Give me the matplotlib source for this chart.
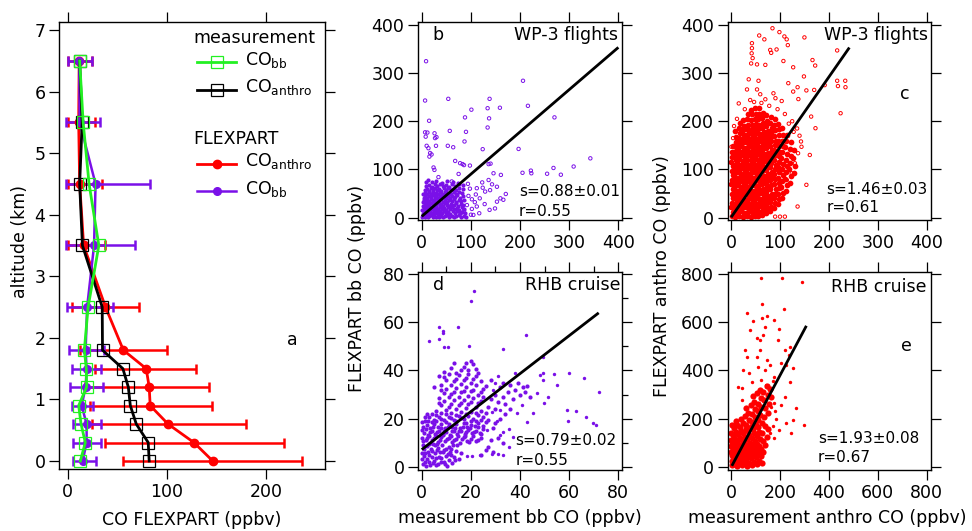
import matplotlib
matplotlib.use('Agg')
import matplotlib.pyplot as plt
import numpy as np

plt.rcParams['font.family'] = ['DejaVu Sans']
plt.rcParams['mathtext.default'] = 'regular'

PURPLE = '#7a10e8'
RED = '#ff0000'
GREEN = '#22f022'

# ---------------- panel a : vertical profiles ----------------
alt = [0, 0.3, 0.6, 0.9, 1.2, 1.5, 1.8, 2.5, 3.5, 4.5, 5.5, 6.5]
flex_anthro = [146, 127, 101, 83, 82, 79, 56, 38, 16, 12, 11, 11.5]
flex_anthro_lo = [56, 38, 24, 22, 17, 27, 12, 4, 0, 0, 0, 0.3]
flex_anthro_hi = [236, 218, 179, 145, 142, 129, 100, 72, 38, 34, 27, 24]
flex_bb = [15, 19, 19, 14, 18, 19, 18, 19.5, 26.5, 28, 12, 11.5]
flex_bb_lo = [5, 5, 5, 4, 2, 4, 1, -1, -2, -2, -2, 0.3]
flex_bb_hi = [28, 33, 33, 25, 35, 33, 36, 46, 68, 83, 32, 24]
meas_anthro = [82, 81, 69, 63, 61, 55.5, 35, 34.7, 14.8, 12, 14.5, 12]
meas_bb = [12.7, 17.7, 13.4, 11, 19, 18.7, 16.7, 20.5, 31.3, 21.5, 15.5, 12]

# ---------------- panel b : bb CO, WP-3 ----------------
b_core = [(1,1),(3,4),(6,2),(9,5),(12,1),(15,3),(18,6),(22,2),(25,4),(29,1),(33,5),(36,2),(40,4),(44,1),(48,3),(52,6),(56,2),(61,4),(66,1),(70,3),(75,5),(80,2),(86,4),(90,1),
(2,8),(5,11),(8,9),(11,13),(14,8),(17,12),(21,10),(24,14),(27,9),(31,12),(35,8),(38,13),(42,10),(46,14),(50,9),(54,12),(58,8),(63,13),(67,10),(72,14),(77,9),(82,12),(87,10),
(1,16),(4,19),(7,17),(10,21),(13,18),(16,22),(20,17),(23,20),(27,16),(30,21),(34,18),(38,22),(41,17),(45,20),(49,16),(53,21),(57,18),(62,22),(66,17),(71,20),(76,16),(81,21),(85,18),
(3,25),(6,28),(9,24),(12,29),(15,26),(19,30),(22,25),(26,28),(29,24),(33,30),(37,26),(40,29),(44,25),(48,30),(52,27),(56,24),(60,29),(65,26),(69,30),(74,25),(79,28),(84,26),
(2,33),(5,36),(8,32),(11,37),(15,34),(18,38),(22,33),(25,36),(29,32),(33,37),(36,34),(40,38),(44,33),(48,36),(52,32),(56,37),(61,34),(65,38),(70,33),(75,36),(80,34),(86,37),
(4,41),(7,44),(11,40),(14,45),(18,42),(22,46),(26,41),(29,44),(33,40),(37,45),(41,42),(45,46),(49,41),(53,44),(57,40),(62,45),(67,42),(72,46),(77,41),(83,44),
(3,49),(7,52),(10,48),(14,53),(18,50),(22,54),(26,49),(30,52),(34,48),(38,53),(42,50),(47,54),(51,49),(56,52),(60,48),(65,53),(70,50),(76,54),(82,51),
(6,57),(10,60),(14,56),(18,61),(23,58),(27,62),(31,57),(36,60),(40,56),(45,61),(49,58),(54,62),(59,57),(64,60),(70,58),(76,61),(84,59),
(9,65),(15,68),(20,64),(26,69),(32,66),(38,70),(44,65),(50,68),(56,64),(62,69),(68,66),(75,70),(83,67),
(20,73),(30,75),(41,72),(52,76),(63,73),(74,72),(8,74),(12,78)]
b_out = [(8.8,324.6),(6.8,243),(54,246.5),(15,201),(6.8,177),(11.5,176.5),(26,175),(27,165),(30,167),(8,168),(10,149),(29,149),(13.6,144),(17,134),(20,131),(53,149),(64,146),(57,180),(88,208),(90,178),(87,158),(101,224),(138,246.5),(134,227),(137,206),(134,187),(159,228),(124,142),(197,142.5),(206,284),(216,232),(270,208),(205,93),(222,97.5),(223,92),(255,91),(268,103),(283,89),(309,106),(343,123),(68,117.6),(78,113),(83,111),(86,109),(98,108),(136,111),(140,112),(146,92),(161,88.6),(143,69),(136,78),(153,64),(160,40),(171,49),(166,37),(153,33),(149,19),(138,16),(128,28),(112,23),(117,9),(105,5.5),(100,6),(124,62),(129,54),(139,57),(112,61),(102,38),(92,26),(108,32),(123,73),(15.6,126.6),(34,84),(24,104),(25.8,99),(75,90.6),(61,75),(49.5,14),(39,26),(79,9),(86,15),(102,18),(95,45),(98,60),(110,48),(118,40),(94,70)]
b_fit = (0.877, 2.5, 0, 400)   # slope, intercept, x start, x end

# ---------------- panel c : anthro CO, WP-3 ----------------
c_core = [(1,3),(3,12),(0,22),(2,31),(4,40),(1,50),(3,59),(0,69),(2,78),(4,88),(1,97),(3,107),(0,116),(2,126),(1,137),(3,148),
(8,2),(10,11),(7,20),(9,29),(11,38),(8,47),(10,56),(7,65),(9,74),(11,83),(8,92),(10,101),(7,110),(9,119),(11,128),(8,137),(10,146),(9,157),(11,168),(8,180),
(16,4),(18,13),(15,22),(17,31),(19,40),(16,49),(18,58),(15,67),(17,76),(19,85),(16,94),(18,103),(15,112),(17,121),(19,130),(16,139),(18,148),(15,157),(17,166),(19,176),(16,186),(18,197),
(24,1),(26,10),(23,19),(25,28),(27,37),(24,46),(26,55),(23,64),(25,73),(27,82),(24,91),(26,100),(23,109),(25,118),(27,127),(24,136),(26,145),(23,154),(25,163),(27,172),(24,181),(26,191),(24,203),
(32,3),(34,12),(31,21),(33,30),(35,39),(32,48),(34,57),(31,66),(33,75),(35,84),(32,93),(34,102),(31,111),(33,120),(35,129),(32,138),(34,147),(31,156),(33,165),(35,174),(32,183),(34,193),(32,204),(34,214),
(40,2),(42,11),(39,20),(41,29),(43,38),(40,47),(42,56),(39,65),(41,74),(43,83),(40,92),(42,101),(39,110),(41,119),(43,128),(40,137),(42,146),(39,155),(41,164),(43,173),(40,182),(42,192),(40,203),(42,214),(41,224),
(48,4),(50,13),(47,22),(49,31),(51,40),(48,49),(50,58),(47,67),(49,76),(51,85),(48,94),(50,103),(47,112),(49,121),(51,130),(48,139),(50,148),(47,157),(49,166),(51,175),(48,184),(50,194),(48,205),(50,216),(49,228),
(56,3),(58,12),(55,21),(57,30),(59,39),(56,48),(58,57),(55,66),(57,75),(59,84),(56,93),(58,102),(55,111),(57,120),(59,129),(56,138),(58,147),(55,156),(57,165),(59,174),(56,183),(58,193),(56,204),(58,215),(57,227),
(64,6),(66,15),(63,24),(65,33),(67,42),(64,51),(66,60),(63,69),(65,78),(67,87),(64,96),(66,105),(63,114),(65,123),(67,132),(64,141),(66,150),(63,159),(65,168),(67,177),(64,186),(66,196),(64,207),(66,218),
(72,9),(74,18),(71,27),(73,36),(75,45),(72,54),(74,63),(71,72),(73,81),(75,90),(72,99),(74,108),(71,117),(73,126),(75,135),(72,144),(74,153),(71,162),(73,171),(75,180),(72,190),(74,201),(72,212),
(80,14),(82,23),(79,32),(81,41),(83,50),(80,59),(82,68),(79,77),(81,86),(83,95),(80,104),(82,113),(79,122),(81,131),(83,140),(80,149),(82,158),(79,167),(81,176),(83,186),(80,197),(82,208),
(88,20),(90,30),(87,40),(89,50),(91,60),(88,70),(90,80),(87,90),(89,100),(91,110),(88,120),(90,130),(87,140),(89,150),(91,160),(88,170),(90,181),(88,193),(90,204),
(96,28),(98,39),(95,50),(97,61),(99,72),(96,83),(98,94),(95,105),(97,116),(99,127),(96,138),(98,149),(95,160),(97,171),(99,183),(96,195),
(104,40),(106,52),(103,64),(105,76),(107,88),(104,100),(106,112),(103,124),(105,136),(107,148),(104,160),(106,172),(104,185),
(112,55),(114,68),(111,81),(113,94),(115,107),(112,120),(114,133),(111,146),(113,159),(115,172),
(120,72),(122,86),(119,100),(121,114),(123,128),(120,142),(122,156),
(128,92),(130,108),(127,124),(129,140)]
c_out = [(84.6,393),(98.8,385),(57.5,378),(68,370),(42.6,362),(42.6,351.6),(42,341),(44,331),(41,320),(53,318),(70,317),(80,348),(82,342),(93,349),(109,376),(113.7,370),(116,358),(107,325),(127,312),(150,374),(166.5,327),(172,315.6),(149,293),(154,264),(170,265),(191.5,275),(217,347),(217,284),(218.6,273),(233.5,284),(234,270.6),(224,216.6),(36,287),(32.5,266),(39,244),(53,266),(56,284),(59.6,256),(70,245.6),(86.6,258),(90.7,247.8),(103.5,242),(117,279),(127,261.6),(136,270.6),(137.6,246),(15.6,237),(20,194),(0.7,147),(163.8,209.7),(172.6,185.5),(161,130),(154,68),(136,23),(110,2),(100,2),(90,2),(143,158),(144,147),(137,133.6),(130.6,112.8),(124,92),(114,78),(103.5,61),(87.9,43.6),(83,23),(73,12.5),(28,225),(47,240),(62,238),(78,232),(95,225),(110,215),(125,200),(135,185),(140,170),(128,178),(118,195),(12,205),(6,190),(4,165)]
c_fit = (1.456, 0.6, 0, 242)

# ---------------- panel d : bb CO, RHB ----------------
d_core = [(0.5,1),(2,3),(3.5,0.8),(5,2.5),(6.5,1.2),(8,3.5),(9.5,1),(11,2.8),(12.5,1.5),
(1,4.5),(2.5,6),(4,4),(5.5,5.5),(7,4.2),(8.5,6.2),(10,4.6),(11.5,6),(13,4),
(0.8,7.5),(2.2,8.5),(3.8,7.2),(5.2,8.8),(6.8,7.6),(8.2,9),(9.8,7.4),(11.2,8.3),(14,6.5),(15,3),(16,5.5),
(1.5,2),(3,5),(4.5,1.5),(6,3.6),(7.5,6),(9,2),(10.5,5.4),(12,7.2),(0.3,5.8),(1.8,0.4),(4.4,9.4),
(0.2,3),(1.2,5.5),(2.8,2),(4,6.6),(5.6,0.5),(6.3,6.8),(7.8,1.8),(9.2,6.8),(10.4,0.4),(11.8,4.8),(13.5,2.6),(12.6,8.8),(14.5,9),(0.4,9.2),(3,9.6),(6.2,9.4),
(0.5,10.5),(2,12),(3.5,10),(5,11.8),(6.5,10.2),(8,12.2),(9.5,10.6),(11,12),(12.5,10.4),(14,11.6),(15.5,10),(17,12.3),(18.5,10.8),(20,11.5),(22,10.5),(24,12),
(0.2,11.8),(1.6,10.9),(3,12.9),(4.3,11),(5.8,12.6),(7.3,11.2),(8.8,13),(10.3,11.4),(11.8,12.8),(13.3,11.1),(14.8,12.7),(16.3,11.3),(17.8,12.9),(19.3,10.4),(21,12.6),(23,11.2),
(1,14),(2.5,13.2),(4,14.8),(5.5,13.4),(7,15),(8.5,13.6),(10,14.6),(11.5,13.2),(13,15),(14.5,13.6),(16,14.8),(17.5,13.4),(19,15.2),(20.5,13.8),(22,15),(23.5,14),(25,15.5),
(0.3,15.3),(1.8,15.8),(3.2,14.3),(4.7,16.3),(6.2,14.6),(7.7,16.1),(9.2,14.9),(10.7,16.4),(12.2,14.7),(13.7,16.2),(15.2,15),(16.7,16.6),(18.2,14.6),(19.7,16.2),(21.2,14.4),(22.7,16.5),(24.3,13.6),
(0.5,16.5),(2,17.5),(3.5,16),(5,17.8),(6.5,16.3),(8,17.6),(9.5,16.1),(11,17.9),(12.5,16.4),(14,17.7),(15.5,16.2),(17,18),(18.5,16.6),(20,17.5),(21.5,16.8),(23,18.2),(25,17),
(0.3,18.4),(1.2,20.8),(2.4,18.8),(4,18.4),(6,18.9),(8,19.9),(10,18.6),(12,20.4),(14,18.8),(16,20.2),(18,18.3),(20,19),(22,18.9),(24,19.3),
(1.5,19),(3,20.5),(5,19.4),(7,20.8),(9,19.2),(11,20.6),(13,19.5),(15,21),(17,19.8),(19,21.2),(21,20),(23,21.5),(25,20.5),(26,18.5),
(2,22),(4,21.8),(6,21.5),(8,22.2),(10,21.8),(12,22.5),(14,21.6),(16,22.8),(18,22),(20,22.9),(22,22.4),(24,23.2),
(6,23),(8,25.5),(10,23.5),(12,26),(14,24),(16,26.5),(18,24.5),(20,27),(22,25),(24,27.5),
(7,26.5),(9,27.2),(11,25),(13,27.8),(15,25.6),(17,27.9),(19,26),(21,28.5),(23,26.3),(25,28.8),
(7,28.5),(9,30.5),(11,28.8),(13,31),(15,29),(17,31.5),(19,29.5),(21,32),(23,30),(25,32.5),
(8,31.8),(10,32.4),(12,30.2),(14,32.8),(16,31),(18,33.2),(20,31.5),(22,33.8),(24,31.2),
(8,34),(10,36),(12,33.8),(14,36.5),(16,34.5),(18,37),(20,35),(22,37.5),(24,35.5),
(9,37.2),(11,38.4),(13,35.5),(15,38.2),(17,36),(19,38.4),(21,36.6),(23,39),(16,40.2),(18,43.2),(20,44),(13,43),
(9,39.5),(12,41),(14,39),(17,41.5),(19,40),(21,42.5),(22,40.5),(7,37.5),(5,33),
(26,22.5),(27,25),(28,28),(27,19.5),(29,16),(26,33.5),(28,36),(30,30),(30,24),(31,27),(32,33),(33,29),(34,26),(35,31),(33,35),(36,34),(37,28),(38,32),(39,35),(40,30),(41,33),(42,31),(43,33.5),(44,29),(36,24),(32,20),(30,18),(34,22),(31,12),(33,10),(28,11),(27,8),(29,6),(24,5),(26,7)]
d_out = [(21.4,73.2),(19.9,69),(7.2,58.2),(14.9,58.2),(8.5,56.6),(8.8,55.7),(3.1,52.4),(6.9,53.2),(19.4,50.2),(9.1,49.6),(10.8,49.9),(33.2,48.8),(42.3,54.8),(49.5,45.8),(54,38.5),(49.5,39),(60,38.8),(66.2,37),(72.3,31),(46.8,30.5),(51.5,29),(59,23.6),(62.8,23.3),(59.7,19),(66.8,20.8),(69.8,18),(71,17.3),(49.8,26.6),(40.7,25.8),(38.6,22.2),(45.4,22.2),(42.7,18.7),(49.5,36),(48,38),(55.2,34),(38,38.8),(31,37.8),(30,34.7),(29,32),(18.3,4.6),(20.3,4.6),(23.7,4.9),(28.5,5.3),(31.2,5.1),(33.2,4.9),(35.3,15.5),(37.3,12.5),(33.2,14.6),(31.9,13.2),(35.3,8.3),(30.5,19),(31.9,23.6),(28.5,22.9),(26.4,15.3)]
d_fit = (0.79, 7.1, 0, 72)

# ---------------- panel e : anthro CO, RHB ----------------
e_core = [(5,5),(15,12),(25,3),(35,15),(45,6),(55,18),(65,4),(75,14),(85,8),(95,20),(105,10),(115,25),(125,15),
(3,25),(12,35),(22,28),(32,40),(42,30),(52,42),(62,33),(72,45),(82,35),(92,48),(102,40),(112,55),(122,45),(132,60),
(4,50),(14,60),(24,52),(34,65),(44,55),(54,68),(64,58),(74,72),(84,62),(94,78),(104,68),(114,85),(124,75),(138,90),
(6,75),(16,88),(26,78),(36,92),(46,82),(56,96),(66,86),(76,100),(86,90),(96,106),(106,96),(118,115),(130,105),(145,125),
(5,102),(15,115),(25,105),(35,120),(45,110),(55,125),(65,115),(75,130),(85,120),(95,138),(105,128),(115,145),(128,138),(150,155),
(8,130),(18,145),(30,135),(40,150),(50,140),(60,158),(70,148),(80,165),(90,155),(100,172),(112,165),(125,180),(140,170),
(12,160),(25,172),(38,165),(50,180),(62,172),(72,192),(84,185),(96,205),(108,195),(120,215),(134,208),(150,225),
(20,190),(40,200),(58,210),(70,225),(85,220),(98,240),(110,232),(124,250),(138,245),(155,262),
(62,245),(80,255),(95,270),(108,262),(122,285),(136,278),(150,300),(164,290),
(88,295),(104,305),(118,318),(132,312),(146,335),(160,325),
(0,140),(2,175),(1,110),(0,60),(10,120),(0,85),(8,40),(18,20),(30,55),(48,25),(60,45),(70,60),(90,65)]
e_out = [(122,783),(210,783),(291.5,767),(127.5,675),(63.7,638),(217,654),(91,607),(125,617),(145,627),(176,610),(197,573),(138,580),(131.5,548),(104,537),(118,527),(77,568),(57,485),(50,402),(64,457),(43,326),(46,277),(27,333),(104,457),(118,485),(111,416),(145,444),(138,402),(159,423),(192.5,527),(220,485),(240,499),(236,464),(253.6,409),(226,423),(206,430),(176,372),(169.5,358),(142,340),(122,360),(158.6,319),(240,353.6),(220,291),(206,256.5),(267,242.6),(253.6,194),(245,139),(297,173),(224,180),(197,152.5),(176,266),(84,353.6),(74.6,388),(93.6,270),(16,180),(0,177.5),(165,250),(180,230),(185,200),(170,170),(160,140),(175,120)]
e_fit = (1.91, -2.4, 3, 308)

# ---------------- figure ----------------
W, H = 972, 531
fig = plt.figure(figsize=(W / 100, H / 100), dpi=100)


def add_ax(l, t, r, b):
    return fig.add_axes([l / W, 1 - b / H, (r - l) / W, (b - t) / H])


TICK_FS = 12.5
LAB_FS = 12.5


def frame(ax):
    for s in ax.spines.values():
        s.set_linewidth(1.0)
    ax.tick_params(which='major', direction='out', length=7, width=0.9,
                   top=True, right=True, labeltop=False, labelright=False,
                   labelsize=TICK_FS, pad=3)
    ax.tick_params(which='minor', direction='out', length=4, width=0.9)


# ---- panel a
axa = add_ax(59.3, 21.7, 325, 469.3)
fa = np.array(flex_anthro)
fb = np.array(flex_bb)
axa.errorbar(fa, alt, xerr=[fa - np.array(flex_anthro_lo), np.array(flex_anthro_hi) - fa],
             fmt='none', ecolor=RED, elinewidth=1.8, capsize=3.5, capthick=1.8, zorder=2)
axa.errorbar(fb, alt, xerr=[fb - np.array(flex_bb_lo), np.array(flex_bb_hi) - fb],
             fmt='none', ecolor=PURPLE, elinewidth=1.8, capsize=3.5, capthick=1.8, zorder=3)
axa.plot(flex_anthro, alt, '-o', color=RED, lw=2, ms=6, zorder=4)
axa.plot(flex_bb, alt, '-o', color=PURPLE, lw=1.8, ms=5.5, zorder=5)
axa.plot(meas_anthro, alt, '-s', color='black', lw=2, ms=9, mfc='none', mew=0.9, zorder=6)
axa.plot(meas_bb, alt, '-s', color=GREEN, lw=2, ms=9, mfc='none', mew=0.9, zorder=7)
axa.set_xlim(-8.5, 259)
axa.set_ylim(-0.135, 7.135)
axa.set_xticks([0, 100, 200])
axa.set_yticks(range(8))
frame(axa)

# legend drawn by hand
T = axa.transAxes
axa.text(0.503, 0.963, 'measurement', transform=T, fontsize=LAB_FS, va='center', ha='left')
axa.plot([0.518, 0.665], [0.910, 0.910], transform=T, color=GREEN, lw=2, clip_on=False)
axa.plot([0.592], [0.910], 's', transform=T, color=GREEN, ms=9, mfc='none', mew=0.9, clip_on=False)
axa.text(0.70, 0.915, 'CO$_{bb}$', transform=T, fontsize=LAB_FS, va='center', ha='left')
axa.plot([0.518, 0.665], [0.848, 0.848], transform=T, color='black', lw=2, clip_on=False)
axa.plot([0.592], [0.848], 's', transform=T, color='black', ms=9, mfc='none', mew=0.9, clip_on=False)
axa.text(0.70, 0.853, 'CO$_{anthro}$', transform=T, fontsize=LAB_FS, va='center', ha='left')
axa.text(0.503, 0.737, 'FLEXPART', transform=T, fontsize=LAB_FS, va='center', ha='left')
axa.plot([0.518, 0.665], [0.683, 0.683], transform=T, color=RED, lw=2, clip_on=False)
axa.plot([0.592], [0.683], 'o', transform=T, color=RED, ms=6, clip_on=False)
axa.text(0.70, 0.688, 'CO$_{anthro}$', transform=T, fontsize=LAB_FS, va='center', ha='left')
axa.plot([0.518, 0.665], [0.621, 0.621], transform=T, color=PURPLE, lw=1.8, clip_on=False)
axa.plot([0.592], [0.621], 'o', transform=T, color=PURPLE, ms=5.5, clip_on=False)
axa.text(0.70, 0.626, 'CO$_{bb}$', transform=T, fontsize=LAB_FS, va='center', ha='left')
axa.text(0.876, 0.289, 'a', transform=T, fontsize=LAB_FS, va='center', ha='center')

fig.text(20 / W, 1 - 242 / H, 'altitude (km)', rotation=90, ha='center', va='center', fontsize=LAB_FS)
fig.text(192 / W, 1 - 520 / H, 'CO FLEXPART (ppbv)', ha='center', va='center', fontsize=LAB_FS)


def scatter_panel(ax, core, out, fit, color, filled, xlim, ylim, ticks, minor=None,
                  core_size=6, out_size=6):
    cx, cy = zip(*core)
    ox, oy = zip(*out)
    # dense core drawn as filled dots
    ax.scatter(cx, cy, s=core_size, c=color, marker='o', linewidths=0, zorder=2)
    if filled:
        ax.scatter(ox, oy, s=out_size, c=color, marker='o', linewidths=0, zorder=2)
    else:
        ax.scatter(ox, oy, s=out_size, facecolors='none', edgecolors=color, marker='o',
                   linewidths=0.7, zorder=2)
    slope, icpt, x0, x1 = fit
    xs = np.array([x0, x1])
    ax.plot(xs, slope * xs + icpt, color='black', lw=2, zorder=3, solid_capstyle='butt')
    ax.set_xlim(*xlim)
    ax.set_ylim(*ylim)
    ax.set_xticks(ticks)
    ax.set_yticks(ticks)
    frame(ax)
    if minor is not None:
        ax.set_xticks(minor, minor=True)
        ax.set_yticks(minor, minor=True)
        ax.tick_params(axis='x', which='minor', bottom=False, top=True)
        ax.tick_params(axis='y', which='minor', left=False, right=True)


axb = add_ax(418.3, 22, 622.3, 220)
scatter_panel(axb, b_core, b_out, b_fit, PURPLE, False, (-7, 408), (-5, 406),
              [0, 100, 200, 300, 400], core_size=9, out_size=6)
axc = add_ax(727.7, 22, 930.5, 220)
scatter_panel(axc, c_core, c_out, c_fit, RED, False, (-7, 408), (-5, 406),
              [0, 100, 200, 300, 400], core_size=17, out_size=6)
axd = add_ax(418.3, 271.7, 622.3, 470)
scatter_panel(axd, d_core, d_out, d_fit, PURPLE, True, (-1.4, 81.6), (-1.4, 81.1),
              [0, 20, 40, 60, 80], minor=[10, 30, 50, 70], core_size=9, out_size=6)
axe = add_ax(727.7, 271.7, 930.5, 470)
scatter_panel(axe, e_core, e_out, e_fit, RED, True, (-14, 816), (-14, 811),
              [0, 200, 400, 600, 800], core_size=20, out_size=6)

# panel annotations
STAT_FS = 11
axb.text(0.097, 0.934, 'b', transform=axb.transAxes, fontsize=LAB_FS, ha='center', va='center')
axb.text(0.978, 0.934, 'WP-3 flights', transform=axb.transAxes, fontsize=LAB_FS, ha='right', va='center')
axb.text(0.494, 0.146, 's=0.88\u00b10.01', transform=axb.transAxes, fontsize=STAT_FS, ha='left', va='center')
axb.text(0.494, 0.045, 'r=0.55', transform=axb.transAxes, fontsize=STAT_FS, ha='left', va='center')

axc.text(0.986, 0.934, 'WP-3 flights', transform=axc.transAxes, fontsize=LAB_FS, ha='right', va='center')
axc.text(0.871, 0.635, 'c', transform=axc.transAxes, fontsize=LAB_FS, ha='center', va='center')
axc.text(0.488, 0.155, 's=1.46\u00b10.03', transform=axc.transAxes, fontsize=STAT_FS, ha='left', va='center')
axc.text(0.488, 0.062, 'r=0.61', transform=axc.transAxes, fontsize=STAT_FS, ha='left', va='center')

axd.text(0.098, 0.933, 'd', transform=axd.transAxes, fontsize=LAB_FS, ha='center', va='center')
axd.text(0.991, 0.933, 'RHB cruise', transform=axd.transAxes, fontsize=LAB_FS, ha='right', va='center')
axd.text(0.477, 0.151, 's=0.79\u00b10.02', transform=axd.transAxes, fontsize=STAT_FS, ha='left', va='center')
axd.text(0.477, 0.05, 'r=0.55', transform=axd.transAxes, fontsize=STAT_FS, ha='left', va='center')

axe.text(0.981, 0.924, 'RHB cruise', transform=axe.transAxes, fontsize=LAB_FS, ha='right', va='center')
axe.text(0.879, 0.627, 'e', transform=axe.transAxes, fontsize=LAB_FS, ha='center', va='center')
axe.text(0.444, 0.16, 's=1.93\u00b10.08', transform=axe.transAxes, fontsize=STAT_FS, ha='left', va='center')
axe.text(0.444, 0.064, 'r=0.67', transform=axe.transAxes, fontsize=STAT_FS, ha='left', va='center')

# axis labels
fig.text(357 / W, 1 - 392 / H, 'FLEXPART bb CO (ppbv)', rotation=90, ha='center', va='bottom', fontsize=LAB_FS)
fig.text(662 / W, 1 - 397 / H, 'FLEXPART anthro CO (ppbv)', rotation=90, ha='center', va='bottom', fontsize=LAB_FS)
fig.text(520 / W, 1 - 518 / H, 'measurement bb CO (ppbv)', ha='center', va='center', fontsize=LAB_FS)
fig.text(827 / W, 1 - 518 / H, 'measurement anthro CO (ppbv)', ha='center', va='center', fontsize=LAB_FS)

fig.savefig('out.png', dpi=100)
